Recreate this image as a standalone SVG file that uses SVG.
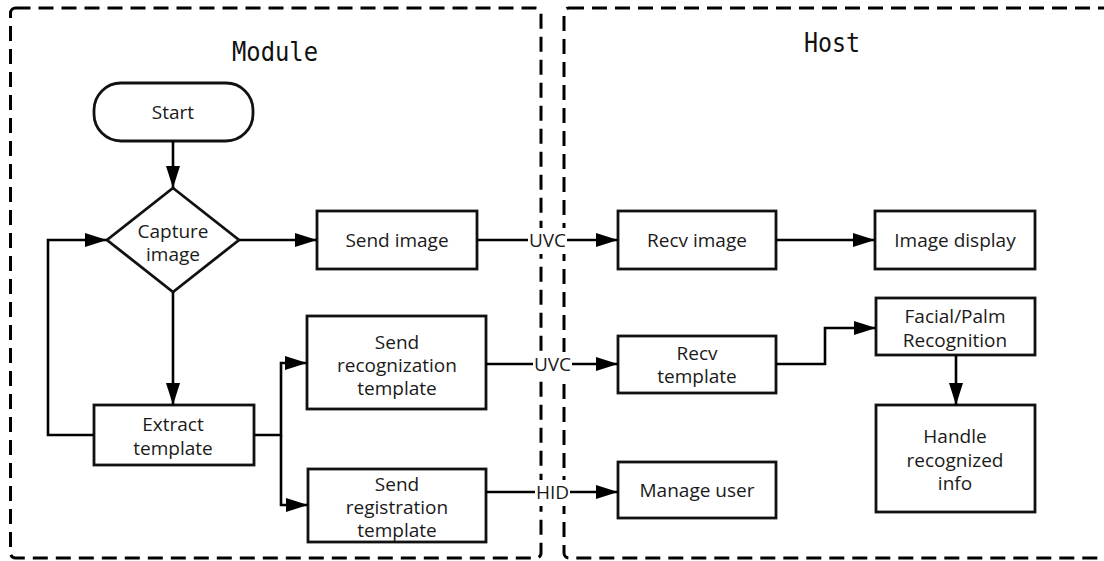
<svg xmlns="http://www.w3.org/2000/svg" width="1104" height="561" viewBox="0 0 1104 561">
<defs>
<style>
.bg{fill:#fff}
.frame{fill:none;stroke:#000;stroke-width:3;stroke-dasharray:15 8}
.box{fill:#fff;stroke:#111;stroke-width:2.8}
.t{font-family:"Open Sans","Noto Sans","Liberation Sans",sans-serif;font-size:19px;fill:#1a1a1a;text-anchor:middle}
.title{font-family:"DejaVu Sans Mono","Liberation Mono",monospace;font-size:27px;fill:#111;text-anchor:middle}
.c{fill:none;stroke:#000;stroke-width:2.6}
.lbl{font-family:"Open Sans","Noto Sans","Liberation Sans",sans-serif;font-size:19px;fill:#1a1a1a;text-anchor:middle}
</style>
<marker id="ah" markerUnits="userSpaceOnUse" markerWidth="24" markerHeight="16" refX="22" refY="7" orient="auto">
<path d="M0,0 L22,7 L0,14 z" fill="#000"/>
</marker>
</defs>
<rect class="bg" x="0" y="0" width="1104" height="561"/>

<g id="module-frame">
<rect class="frame" x="10.5" y="8" width="530.5" height="550" rx="5"/>
<text class="title" x="275" y="61" textLength="86" lengthAdjust="spacingAndGlyphs">Module</text>
</g>
<g id="host-frame">
<rect class="frame" x="564" y="8" width="560" height="550" rx="5"/>
<text class="title" x="832" y="52" textLength="56" lengthAdjust="spacingAndGlyphs">Host</text>
</g>

<g id="start">
<rect class="box" x="94" y="83" width="159" height="58" rx="27"/>
<text class="t" x="173" y="119">Start</text>
</g>
<g id="capture-image">
<polygon class="box" points="173,188 239,240 173,292 107,240"/>
<text class="t" x="173" y="238">Capture<tspan x="173" dy="23">image</tspan></text>
</g>
<g id="send-image">
<rect class="box" x="317" y="211" width="160" height="58"/>
<text class="t" x="397" y="247">Send image</text>
</g>
<g id="recv-image">
<rect class="box" x="618" y="211" width="158" height="58"/>
<text class="t" x="697" y="247">Recv image</text>
</g>
<g id="image-display">
<rect class="box" x="875" y="211" width="160" height="58"/>
<text class="t" x="955" y="247">Image display</text>
</g>
<g id="send-recognization-template">
<rect class="box" x="307" y="316" width="179" height="93"/>
<text class="t" x="397" y="349">Send<tspan x="397" dy="23">recognization</tspan><tspan x="397" dy="23">template</tspan></text>
</g>
<g id="recv-template">
<rect class="box" x="618" y="336" width="158" height="57"/>
<text class="t" x="697" y="360">Recv<tspan x="697" dy="23">template</tspan></text>
</g>
<g id="facial-palm-recognition">
<rect class="box" x="876" y="298" width="159" height="57"/>
<text class="t" x="955" y="323">Facial/Palm<tspan x="955" dy="24">Recognition</tspan></text>
</g>
<g id="extract-template">
<rect class="box" x="94" y="405" width="160" height="60"/>
<text class="t" x="173" y="431">Extract<tspan x="173" dy="24">template</tspan></text>
</g>
<g id="send-registration-template">
<rect class="box" x="308" y="469" width="178" height="73"/>
<text class="t" x="397" y="491">Send<tspan x="397" dy="23">registration</tspan><tspan x="397" dy="23">template</tspan></text>
</g>
<g id="manage-user">
<rect class="box" x="618" y="462" width="158" height="56"/>
<text class="t" x="697" y="497">Manage user</text>
</g>
<g id="handle-recognized-info">
<rect class="box" x="876" y="405" width="159" height="107"/>
<text class="t" x="955" y="443">Handle<tspan x="955" dy="24">recognized</tspan><tspan x="955" dy="23">info</tspan></text>
</g>

<g id="connectors">
<path class="c" d="M173,141 L173,188" marker-end="url(#ah)"/>
<path class="c" d="M239,240 L317,240" marker-end="url(#ah)"/>
<path class="c" d="M173,292 L173,405" marker-end="url(#ah)"/>
<path class="c" d="M94,435 L48,435 L48,240 L107,240" marker-end="url(#ah)"/>
<path class="c" d="M254,435 L281,435 L281,363 L307,363" marker-end="url(#ah)"/>
<path class="c" d="M281,435 L281,505 L308,505" marker-end="url(#ah)"/>
<path class="c" d="M776,240 L875,240" marker-end="url(#ah)"/>
<path class="c" d="M776,364 L825,364 L825,328 L876,328" marker-end="url(#ah)"/>
<path class="c" d="M956,355 L956,405" marker-end="url(#ah)"/>

<path class="c" d="M477,240 L528,240"/>
<rect class="bg" x="528" y="228" width="39" height="26"/>
<text class="lbl" x="547.5" y="247">UVC</text>
<path class="c" d="M567,240 L618,240" marker-end="url(#ah)"/>

<path class="c" d="M486,364 L533,364"/>
<rect class="bg" x="533" y="352" width="39" height="26"/>
<text class="lbl" x="552.5" y="371">UVC</text>
<path class="c" d="M572,364 L618,364" marker-end="url(#ah)"/>

<path class="c" d="M486,492 L535,492"/>
<rect class="bg" x="535" y="480" width="35" height="26"/>
<text class="lbl" x="552.5" y="499">HID</text>
<path class="c" d="M570,492 L618,492" marker-end="url(#ah)"/>
</g>
</svg>
